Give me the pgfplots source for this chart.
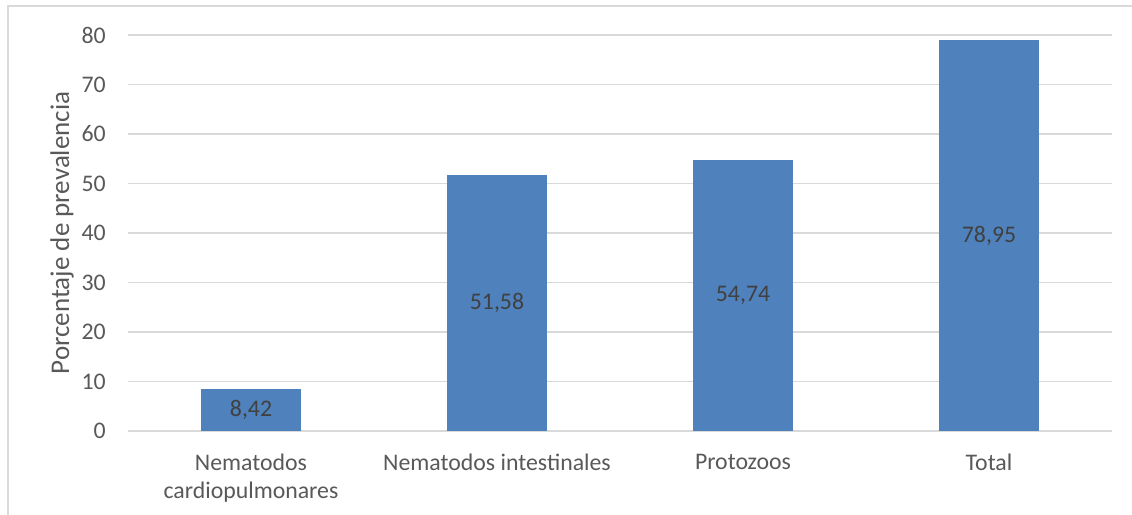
\documentclass[border=0pt]{standalone}
\usepackage{pgfplots}
\pgfplotsset{compat=1.18}
\usepackage{fontspec}
\setmainfont{Carlito}
\definecolor{barblue}{HTML}{4F81BD}
\definecolor{gridgray}{HTML}{D9D9D9}
\definecolor{txtgray}{HTML}{595959}
\definecolor{lblgray}{HTML}{404040}
\pgfplotstableread{
x y lab
0 8.42 8,42
1 51.58 51,58
2 54.74 54,74
3 78.95 78,95
}\prevdata
\begin{document}
\begin{tikzpicture}[x=1bp,y=1bp]
\useasboundingbox (0,0) rectangle (1132,515);
\fill[white] (0,0) rectangle (1132,515);
\draw[gridgray, line width=1.5bp] (8,0) -- (8,509) -- (1132,509);
\begin{axis}[
  at={(128bp,84bp)}, anchor=south west,
  width=984bp, height=396bp, scale only axis,
  ymin=0, ymax=80, ytick={0,10,...,80},
  xmin=-0.5, xmax=3.5,
  xtick={0,1,2,3},
  xticklabels={{Nematodos\\cardiopulmonares},{Nematodos intestinales},{Protozoos},{Total}},
  /pgf/number format/assume math mode=true,
  axis line style={draw=none},
  major tick style={draw=none},
  ymajorgrids,
  grid style={gridgray, line width=1.4bp},
  tick label style={font=\fontsize{23.8bp}{28bp}\selectfont, text=txtgray, inner sep=0pt},
  yticklabel style={anchor=east, xshift=-22bp},
  xticklabel style={anchor=north, align=center, yshift=-23bp},
  ylabel={Porcentaje de prevalencia},
  every axis y label/.style={at={(rel axis cs:0,0.5)}, xshift=-59bp, rotate=90, anchor=base,
    font=\fontsize{27bp}{31bp}\selectfont, text=txtgray},
]
\addplot[ybar, fill=barblue, draw=barblue, bar width=99bp,
  nodes near coords, point meta=explicit symbolic,
  visualization depends on={y \as \rawy},
  every node near coord/.append style={anchor=center,
    font=\fontsize{23.8bp}{28bp}\selectfont, text=lblgray,
    shift={(axis direction cs:0,-\rawy/2)}}]
  table[x=x, y=y, meta=lab] {\prevdata};
\end{axis}
\end{tikzpicture}
\end{document}
